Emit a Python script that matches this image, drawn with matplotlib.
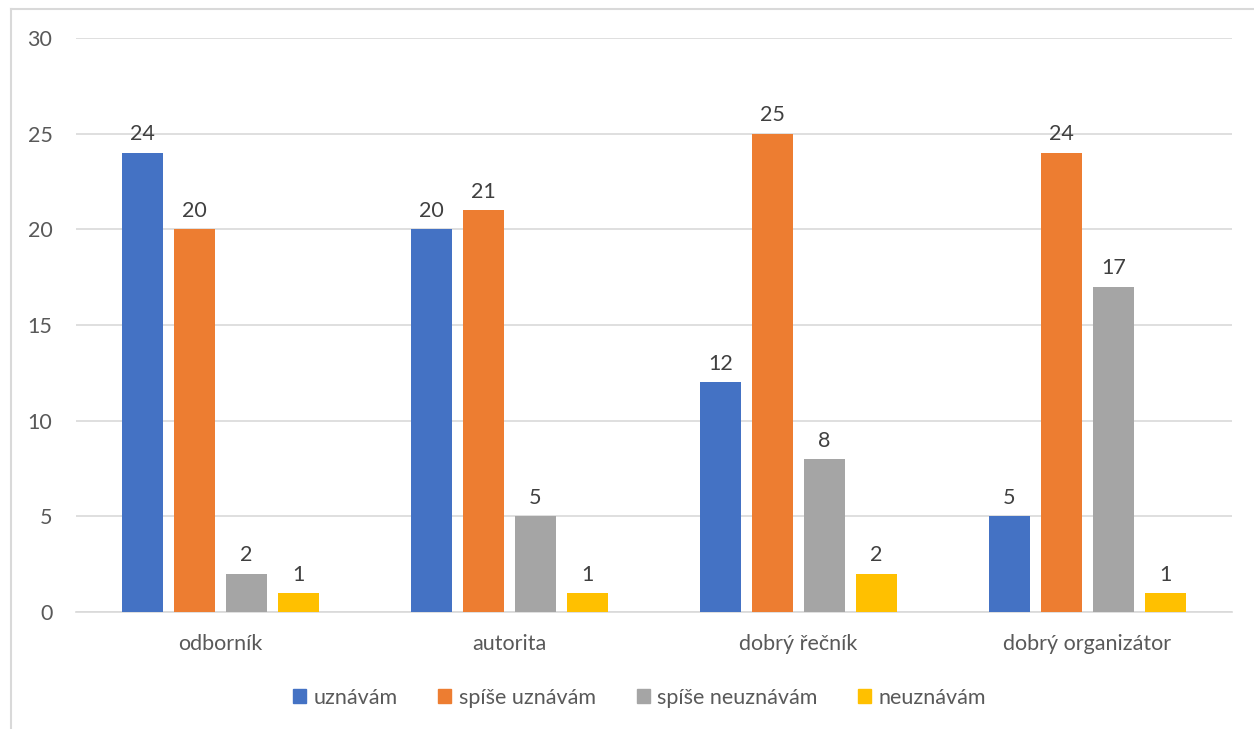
import matplotlib.pyplot as plt
import numpy as np
from matplotlib.lines import Line2D

plt.rcParams.update({"figure.dpi": 100})
plt.rcParams["font.family"] = ["Lato", "DejaVu Sans"]

categories = ["odborník", "autorita", "dobrý řečník", "dobrý organizátor"]
series = ["uznávám", "spíše uznávám", "spíše neuznávám", "neuznávám"]
uznavam = [24, 20, 12, 5]
spise_uznavam = [20, 21, 25, 24]
spise_neuznavam = [2, 5, 8, 17]
neuznavam = [1, 1, 2, 1]
colors = ["#4472C4", "#ED7D31", "#A5A5A5", "#FFC000"]

text_color = "#595959"
grid_color = "#D9D9D9"
fs = 15.5

fig = plt.figure(figsize=(12.54, 7.29))
ax = fig.add_axes([0.0606, 0.1605, 0.9219, 0.7874])

x = np.arange(len(categories))
bar_width = 0.142
step = 0.18
offsets = (np.arange(4) - 1.5) * step

for values, label, color, off in zip(
    [uznavam, spise_uznavam, spise_neuznavam, neuznavam], series, colors, offsets
):
    bars = ax.bar(x + off, values, width=bar_width, color=color, label=label, zorder=3)
    for b, v in zip(bars, values):
        ax.annotate(
            str(v),
            (b.get_x() + b.get_width() / 2, b.get_height()),
            xytext=(0, 6),
            textcoords="offset points",
            ha="center",
            va="bottom",
            fontsize=fs,
            color="#404040",
        )

ax.set_xlim(-0.5, 3.5)
ax.set_ylim(0, 30)
ax.set_yticks(range(0, 31, 5))
ax.yaxis.grid(True, color=grid_color, linewidth=1.2, zorder=0)
ax.set_xticks(x)
ax.set_xticklabels(categories)
ax.tick_params(axis="both", length=0, labelsize=fs, colors=text_color)
ax.tick_params(axis="y", pad=17)
ax.tick_params(axis="x", pad=16)
for side in ["left", "right", "top"]:
    ax.spines[side].set_visible(False)
ax.spines["bottom"].set_color(grid_color)
ax.spines["bottom"].set_linewidth(1.2)

handles = [
    plt.Rectangle((0, 0), 1, 1, color=c) for c in colors
]
fig.legend(
    handles,
    series,
    loc="center",
    bbox_to_anchor=(0.51, 0.043),
    ncol=4,
    frameon=False,
    fontsize=fs,
    labelcolor=text_color,
    handlelength=0.6,
    handleheight=0.6,
    handletextpad=0.35,
    columnspacing=1.9,
)

# chart frame (left and top edges)
fig.add_artist(Line2D([11 / 1254, 11 / 1254], [0, 1 - 9 / 729], color=grid_color,
                      linewidth=1.5, transform=fig.transFigure))
fig.add_artist(Line2D([11 / 1254, 1], [1 - 9 / 729, 1 - 9 / 729], color=grid_color,
                      linewidth=1.5, transform=fig.transFigure))

fig.savefig("out.png", dpi=100)
